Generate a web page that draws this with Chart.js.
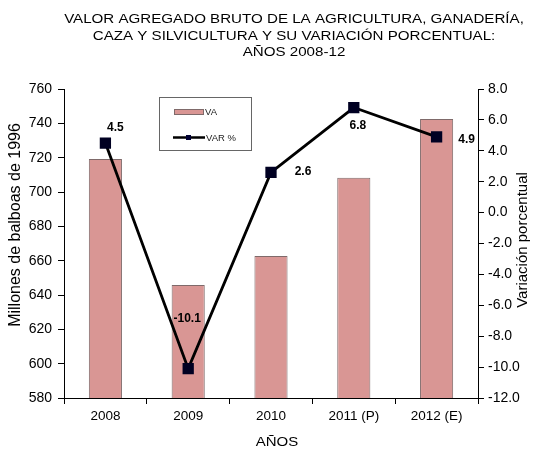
<!DOCTYPE html>
<html>
<head>
<meta charset="utf-8">
<script src="https://cdn.jsdelivr.net/npm/chart.js@4"></script>
<style>
  body { margin: 0; background: #fff; }
  #wrap { width: 534px; height: 451px; }
</style>
</head>
<body>
<div id="wrap"><canvas id="c" width="534" height="451"></canvas></div>
<script>
// data
const years = ["2008", "2009", "2010", "2011 (P)", "2012 (E)"];
const va = [719.2, 645.8, 662.7, 708.3, 742.5];
const varPct = [4.5, -10.1, 2.6, 6.8, 4.9];
const titleLines = [
  "VALOR AGREGADO BRUTO DE LA AGRICULTURA, GANADERÍA,",
  "CAZA Y SILVICULTURA Y SU VARIACIÓN PORCENTUAL:",
  "AÑOS 2008-12"
];

const FONT = "'Liberation Sans', Arial, sans-serif";
Chart.defaults.font.family = FONT;
Chart.defaults.color = "#000";

// where each value label sits relative to its point
const labelOffsets = [[10, -15], [-1, -50], [32, -1], [4, 18], [30, 3]];

// text in the original is a bit wider than it is tall
function wideText(ctx, txt, x, y, sx) {
  ctx.save();
  ctx.translate(x, y);
  ctx.scale(sx, 1);
  ctx.fillText(txt, 0, 0);
  ctx.restore();
}

function upText(ctx, txt, x, y) {
  ctx.save();
  ctx.translate(x, y);
  ctx.rotate(-Math.PI / 2);
  ctx.fillText(txt, 0, 0);
  ctx.restore();
}

const extras = {
  id: "extras",
  afterDraw(chart) {
    const ctx = chart.ctx;
    ctx.save();
    ctx.fillStyle = "#000";
    ctx.textAlign = "center";
    ctx.textBaseline = "middle";

    // title
    ctx.font = "12.5px " + FONT;
    titleLines.forEach((t, i) => wideText(ctx, t, 294, 20 + i * 16.5, 1.21));

    // x axis title
    wideText(ctx, "AÑOS", 277, 443, 1.2);

    // y axis titles, both reading upward
    ctx.font = "16px " + FONT;
    upText(ctx, "Millones de balboas de 1996", 16, 225);
    ctx.font = "15px " + FONT;
    upText(ctx, "Variación porcentual", 523, 240);

    // value labels
    const meta = chart.getDatasetMeta(1);
    ctx.font = "bold 12px " + FONT;
    meta.data.forEach((pt, i) => {
      const [dx, dy] = labelOffsets[i];
      ctx.fillText(varPct[i].toFixed(1), pt.x + dx, pt.y + dy);
    });

    // legend box
    ctx.fillStyle = "#fff";
    ctx.fillRect(159, 97, 92, 53);
    ctx.strokeStyle = "#666";
    ctx.lineWidth = 1;
    ctx.strokeRect(159.5, 97.5, 92, 53);
    ctx.fillStyle = "#d99694";
    ctx.fillRect(174, 109, 29, 5);
    ctx.strokeStyle = "#7f6a6a";
    ctx.strokeRect(174.5, 109.5, 29, 5);
    ctx.strokeStyle = "#000";
    ctx.lineWidth = 2.5;
    ctx.beginPath();
    ctx.moveTo(173, 137.5);
    ctx.lineTo(205, 137.5);
    ctx.stroke();
    ctx.fillStyle = "#000033";
    ctx.fillRect(186, 135, 5, 5);
    ctx.fillStyle = "#222";
    ctx.font = "9.5px " + FONT;
    ctx.textAlign = "left";
    ctx.fillText("VA", 205, 112);
    ctx.fillText("VAR %", 206, 138);
    ctx.restore();
  }
};

new Chart(document.getElementById("c"), {
  data: {
    labels: years,
    datasets: [
      {
        type: "bar",
        label: "VA",
        data: va,
        yAxisID: "y",
        backgroundColor: "#d99694",
        borderColor: "#7f6a6a",
        borderWidth: 1,
        barPercentage: 0.8,
        categoryPercentage: 0.5,
        order: 2
      },
      {
        type: "line",
        label: "VAR %",
        data: varPct,
        yAxisID: "y2",
        borderColor: "#000",
        borderWidth: 2.8,
        pointStyle: "rect",
        pointRadius: 6,
        pointBackgroundColor: "#000022",
        pointBorderColor: "#000022",
        tension: 0,
        order: 1
      }
    ]
  },
  options: {
    responsive: false,
    animation: false,
    layout: { padding: { top: 89, left: 0, right: 0, bottom: 0 } },
    plugins: { legend: { display: false }, tooltip: { enabled: false }, title: { display: false } },
    scales: {
      x: {
        offset: true,
        grid: { display: true, drawOnChartArea: false, color: "#000", tickLength: 6, offset: true },
        border: { color: "#000" },
        ticks: { font: { size: 13.5 }, padding: 4, maxRotation: 0 },
        afterFit(s) { s.height = 53; }
      },
      y: {
        position: "left",
        min: 580, max: 760,
        ticks: { stepSize: 20, font: { size: 14 }, padding: 6 },
        grid: { drawOnChartArea: false, color: "#000", tickLength: 6 },
        border: { color: "#000" },
        afterFit(s) { s.width = 64; }
      },
      y2: {
        position: "right",
        min: -12, max: 8,
        ticks: { stepSize: 2, font: { size: 14 }, padding: 4, callback: v => v.toFixed(1) },
        grid: { drawOnChartArea: false, color: "#000", tickLength: 6 },
        border: { color: "#000" },
        afterFit(s) { s.width = 56; }
      }
    }
  },
  plugins: [extras]
});
</script>
</body>
</html>
